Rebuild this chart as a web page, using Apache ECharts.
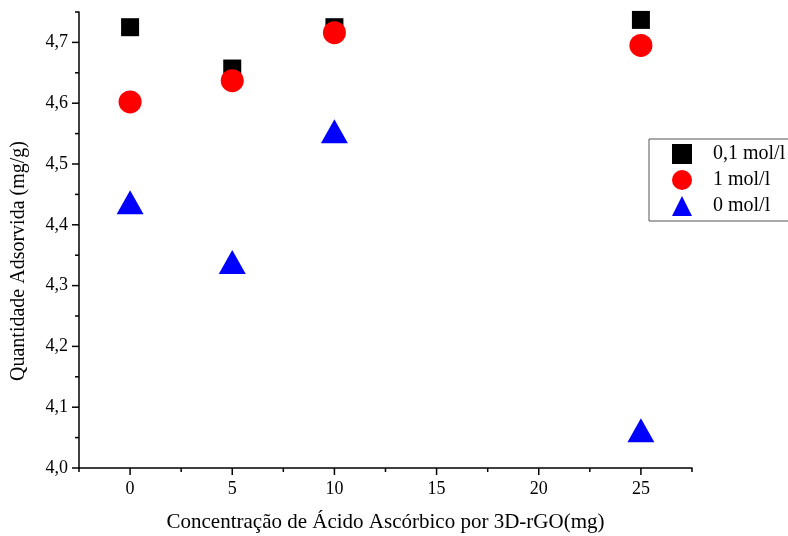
<!DOCTYPE html>
<html>
<head>
<meta charset="utf-8">
<script src="https://cdn.jsdelivr.net/npm/echarts@6/dist/echarts.min.js"></script>
<style>
  html, body { margin: 0; padding: 0; background: #fff; }
  #chart { width: 788px; height: 536px; }
</style>
</head>
<body>
<div id="chart"></div>
<script>
// concentração de ácido ascórbico (mg)
var xValues = [0, 5, 10, 25]
var data01 = [4.725, 4.657, 4.725, 4.737]   // 0,1 mol/l
var data1 = [4.602, 4.637, 4.716, 4.695]    // 1 mol/l
var data0 = [4.437, 4.339, 4.554, 4.062]    // 0 mol/l
var seriesNames = ['0,1 mol/l', '1 mol/l', '0 mol/l']

function pairs(ys) {
  return xValues.map(function (x, i) { return [x, ys[i]] })
}

var serif = 'Liberation Serif, Times New Roman, serif'

var chart = echarts.init(document.getElementById('chart'), null, { renderer: 'canvas' })

var option = {
  backgroundColor: '#fff',
  animation: false,
  grid: {
    left: 79,
    right: 96,
    top: 12,
    bottom: 68,
    outerBoundsMode: 'none'
  },
  legend: {
    orient: 'vertical',
    left: 649,
    top: 139,
    width: 200,
    padding: [5, 40, 5, 23],
    itemWidth: 20,
    itemHeight: 20,
    itemGap: 6,
    borderColor: '#555',
    borderWidth: 1,
    textStyle: { fontFamily: serif, fontSize: 20, color: '#000', padding: [0, 0, 0, 16] },
    data: seriesNames
  },
  xAxis: {
    type: 'value',
    min: -2.5,
    max: 27.5,
    interval: 2.5,
    name: 'Concentração de Ácido Ascórbico por 3D-rGO(mg)',
    nameLocation: 'middle',
    nameGap: 44,
    nameTextStyle: { fontFamily: serif, fontSize: 21, color: '#000' },
    axisLine: { show: true, onZero: false, lineStyle: { color: '#000', width: 1.5 } },
    axisTick: { show: false },
    splitLine: { show: false },
    axisLabel: {
      fontFamily: serif, fontSize: 18, color: '#000', margin: 12,
      formatter: function (v) { return (v % 5 === 0) ? String(v) : '' }
    }
  },
  yAxis: {
    type: 'value',
    min: 4.0,
    max: 4.75,
    interval: 0.05,
    name: 'Quantidade Adsorvida (mg/g)',
    nameLocation: 'middle',
    nameGap: 50,
    nameTextStyle: { fontFamily: serif, fontSize: 20, color: '#000', padding: [0, 42, 0, 0] },
    axisLine: { show: true, onZero: false, lineStyle: { color: '#000', width: 1.5 } },
    axisTick: { show: false },
    splitLine: { show: false },
    axisLabel: {
      fontFamily: serif, fontSize: 18, color: '#000', margin: 11,
      formatter: function (v) {
        var r = Math.round(v * 100)
        if (r % 10 !== 0) return ''
        return (r / 100).toFixed(1).replace('.', ',')
      }
    }
  },
  series: [{
    name: seriesNames[0],
    type: 'scatter',
    symbol: 'rect',
    symbolSize: 18,
    itemStyle: { color: '#000', opacity: 1 },
    data: pairs(data01)
  }, {
    name: seriesNames[1],
    type: 'scatter',
    symbol: 'circle',
    symbolSize: 23,
    itemStyle: { color: '#ff0000', opacity: 1 },
    data: pairs(data1)
  }, {
    name: seriesNames[2],
    type: 'scatter',
    symbol: 'triangle',
    symbolSize: [27, 24],
    itemStyle: { color: '#0000ff', opacity: 1 },
    data: pairs(data0)
  }]
}

chart.setOption(option)

// ticks drawn outward like the original plot (major every 5 / 0.1, minor at half steps)
function drawTicks() {
  var els = []
  for (var k = 0; k <= 12; k++) {
    var xv = -2.5 + k * 2.5
    var p = chart.convertToPixel({ gridIndex: 0 }, [xv, 4.0])
    var major = (Math.abs(xv % 5) < 1e-9)
    els.push({ type: 'line', silent: true, shape: { x1: p[0], y1: p[1], x2: p[0], y2: p[1] + (major ? 7 : 4) }, style: { stroke: '#000', lineWidth: 1.5 } })
  }
  for (var j = 0; j <= 15; j++) {
    var yv = 4.0 + j * 0.05
    var q = chart.convertToPixel({ gridIndex: 0 }, [-2.5, yv])
    var majorY = (j % 2 === 0)
    els.push({ type: 'line', silent: true, shape: { x1: q[0], y1: q[1], x2: q[0] - (majorY ? 7 : 4), y2: q[1] }, style: { stroke: '#000', lineWidth: 1.5 } })
  }
  chart.setOption({ graphic: { elements: els } })
}
drawTicks()
</script>
</body>
</html>
